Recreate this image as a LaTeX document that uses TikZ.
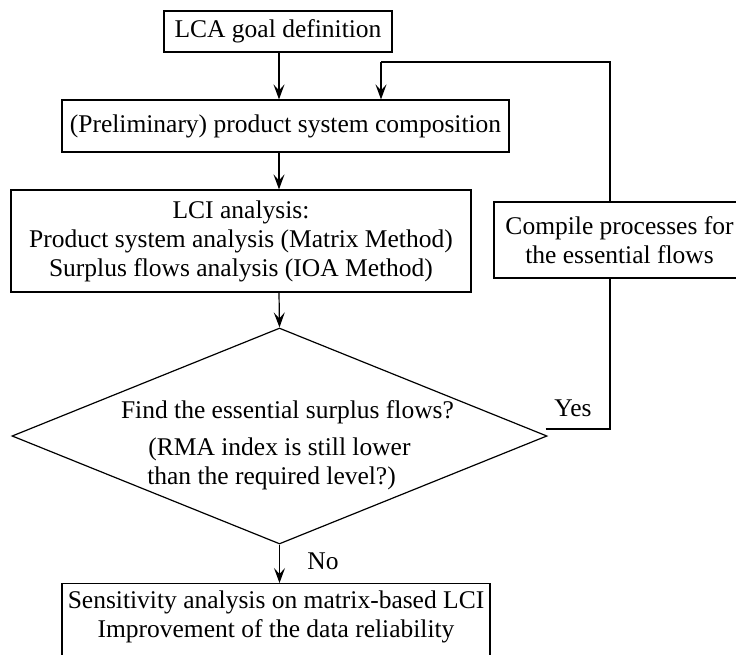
\documentclass[tikz,border=0pt]{standalone}
\usepackage{fontspec}
\setmainfont{Liberation Serif}
\usetikzlibrary{shapes.geometric,arrows.meta,calc}
\begin{document}
\begin{tikzpicture}[x=1pt,y=-1pt,
  every node/.style={font=\rmfamily\fontsize{25.5}{29}\selectfont, inner sep=0pt},
  box/.style={draw, line width=1.2pt, align=center},
  arr/.style={-{Stealth[length=15pt,width=11pt,inset=6pt]}, line width=1.2pt},
  conn/.style={line width=1.2pt}]
\useasboundingbox (0,0) rectangle (736,655);
\clip (0,0) rectangle (736,655);

% process boxes
\node[box, minimum width=228pt, minimum height=41pt] (goal) at (278,31.5) {LCA goal definition};
\node[box, minimum width=447pt, minimum height=52pt] (comp) at (285.5,126) {(Preliminary) product system composition};
\node[box, minimum width=460pt, minimum height=102pt] (lci) at (241,241) {LCI analysis:\\Product system analysis (Matrix Method)\\Surplus flows analysis (IOA Method)};
\node[box, minimum width=251pt, minimum height=76pt] (compile) at (619.5,240) {Compile processes for\\the essential flows};

% decision
\node[draw, diamond, line width=1.2pt, minimum width=535pt, minimum height=216pt] (dec) at (279.5,436) {};
\node[align=center] (question) at (279.5,445) {\hspace*{16pt}Find the essential surplus flows?\\[8pt](RMA index is still lower\hspace*{16pt}\\than the required level?)\hspace*{16pt}};

% final box (runs past the lower edge)
\node[box, minimum width=428pt, minimum height=82pt, anchor=north] (sens) at (276,583) {};
\node[align=center] (senstext) at (276,617) {Sensitivity analysis on matrix-based LCI\\Improvement of the data reliability};

% main spine
\coordinate (spine) at (279,0);
\draw[arr] (goal.south -| spine) -- (comp.north -| spine);
\draw[arr] (comp.south -| spine) -- (lci.north -| spine);
\draw[arr] (lci.south -| spine) -- (dec.north);
\draw[arr] (dec.south) -- (sens.north -| dec.south);
\node (no) at (323,561) {No};

% feedback loop
\coordinate (yesstart) at ($(dec.east)+(-2,-7)$);
\coordinate (loopx) at (610,0);
\coordinate (topR) at (610,62);
\coordinate (topL) at (381,62);
\draw[conn] (yesstart) -| (compile.south -| loopx);
\draw[conn] (compile.north -| loopx) -- (topR) -- (topL);
\draw[arr] (topL) -- (comp.north -| topL);
\node (yes) at (573,408) {Yes};
\end{tikzpicture}
\end{document}
